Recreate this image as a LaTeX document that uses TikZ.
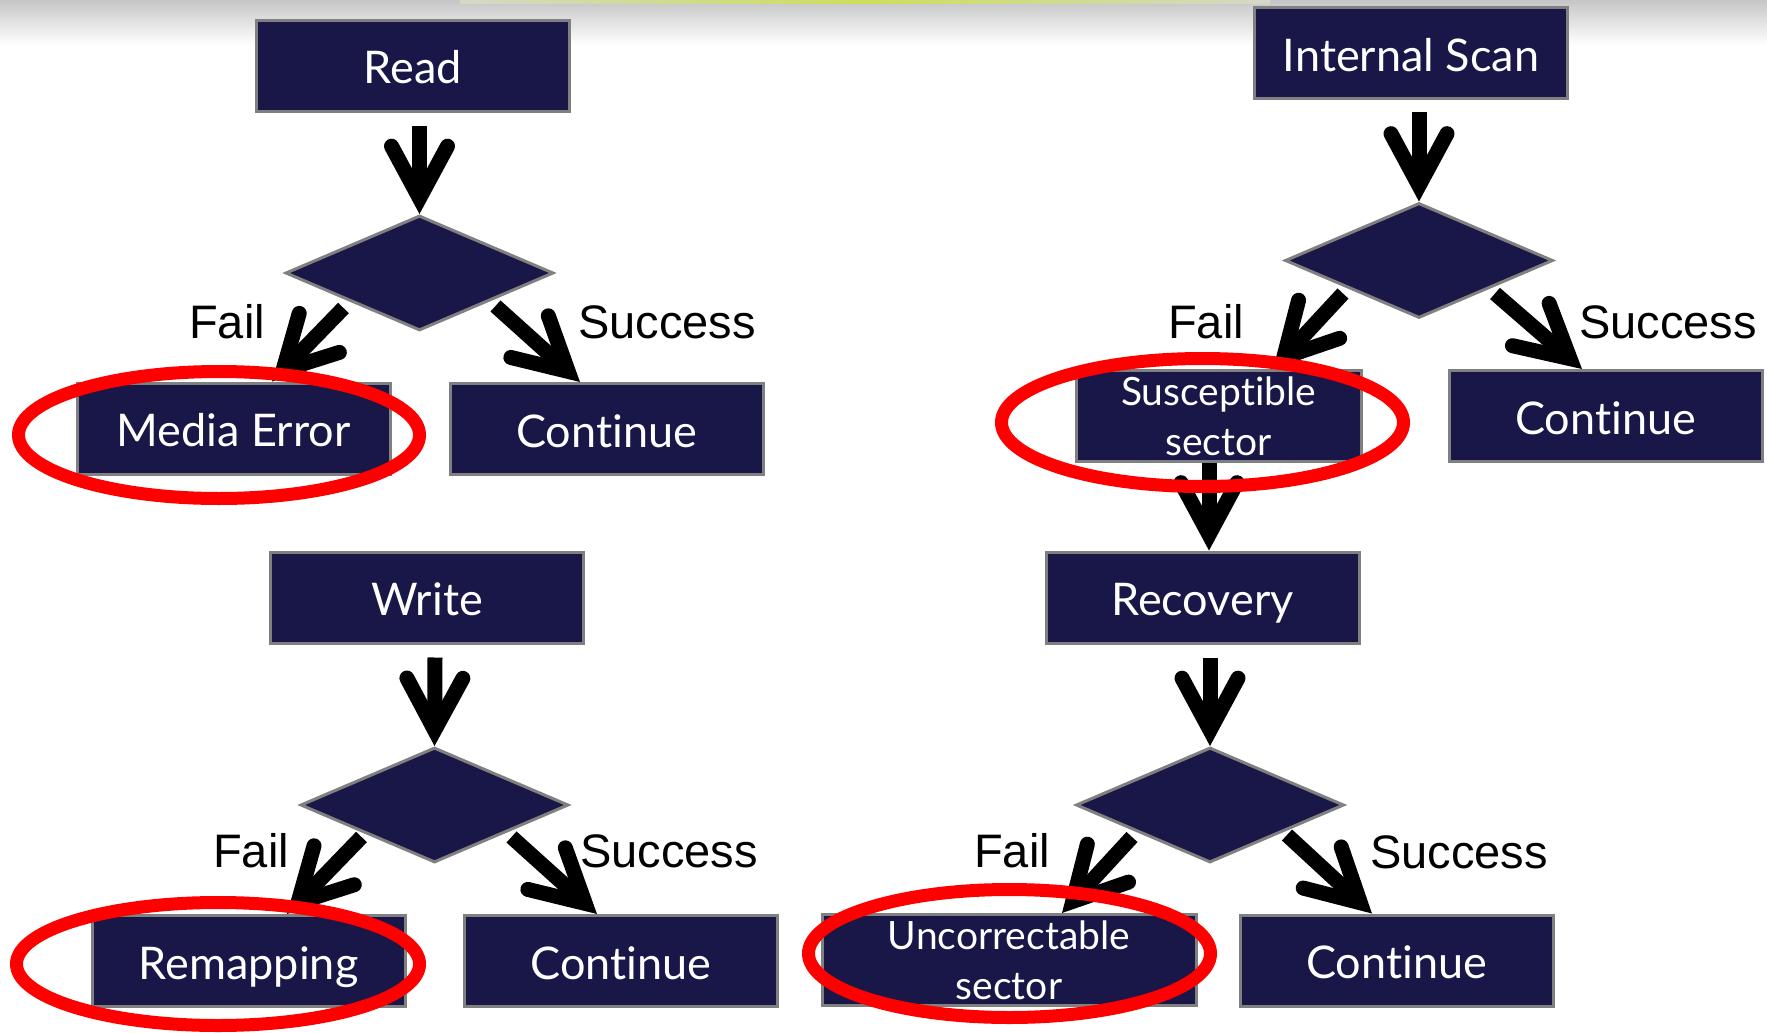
\documentclass[tikz,border=0pt]{standalone}
\usepackage{fontspec}
\setmainfont[Ligatures={NoCommon,NoContextual}]{Lato}
\newfontfamily\arialfont{Liberation Sans}
\usetikzlibrary{shapes.geometric,arrows.meta,calc}
\definecolor{navy}{RGB}{25,22,72}
\definecolor{boxedge}{RGB}{128,128,128}
\definecolor{ringred}{RGB}{255,0,0}
\definecolor{topbar}{RGB}{205,222,90}
\begin{document}
\begin{tikzpicture}[x=1pt,y=-1pt,
  box/.style={rectangle, fill=navy, draw=boxedge, line width=3pt, inner sep=0pt,
    text=white, font=\fontsize{45}{54}\selectfont, text height=36pt, text depth=0pt,
    minimum width=313pt, minimum height=91pt},
  boxtwo/.style={rectangle, fill=navy, draw=boxedge, line width=3pt, inner sep=0pt,
    text=white, font=\fontsize{39}{50}\selectfont, align=center, minimum height=91pt},
  dec/.style={diamond, fill=navy, draw=boxedge, line width=3pt, inner sep=0pt,
    minimum width=268pt, minimum height=115pt},
  arr/.style={line width=15pt,
    -{Straight Barb[length=52pt, width=56pt, line cap=round, line join=miter]}},
  lbl/.style={font=\arialfont\fontsize{47}{56}\selectfont, anchor=base west, inner sep=0pt},
  ring/.style={draw=ringred, line width=13pt}]

% canvas and top shadow
\fill[white] (0,0) rectangle (1767,1033);
\useasboundingbox (0,0) rectangle (1767,1033);
\shade[top color=gray!45, bottom color=white] (0,0) rectangle (1767,45);
\shade[left color=topbar!30!gray!40, right color=topbar!30!gray!40, middle color=topbar]
  (460,0) rectangle (1270,4);

% boxes
\node[box] (read) at (412.5,66) {Read};
\node[box] (scan) at (1411,53) {Internal Scan};
\node[box] (mederr) at (233.5,428.5) {Media Error};
\node[box] (contA) at (606.5,429) {Continue};
\node[boxtwo, minimum width=285pt] (susc) at (1218.5,416) {Susceptible\\sector};
\node[box] (contB) at (1605.5,416) {Continue};
\node[box] (write) at (427,597.5) {Write};
\node[box] (recov) at (1202.5,597.5) {Recovery};
\node[box] (remap) at (248.5,961) {Remapping};
\node[box] (contC) at (621,961) {Continue};
\node[boxtwo, minimum width=374pt] (uncor) at (1009,960) {Uncorrectable\\sector};
\node[box] (contD) at (1396.5,960.5) {Continue};

% decisions
\node[dec] (d1) at (419.5,273) {};
\node[dec] (d2) at (434.5,805) {};
\node[dec] (d3) at (1419,260.5) {};
\node[dec] (d4) at (1210,805) {};

% connectors
\draw[arr] ($(read.south)+(7,13)$) -- (d1.north);
\draw[arr] ($(scan.south)+(8,12)$) -- (d3.north);
\draw[arr] ($(write.south)+(8,13)$) -- (d2.north);
\draw[arr] ($(recov.south)+(7.5,13)$) -- (d4.north);
\draw[arr] ($(susc.south)+(-9.5,0)$) -- ($(recov.north)+(6.5,0)$);

\draw[arr] ($(d1.center)+(-76,35)$) -- ($(mederr.north)+(38.5,0)$);
\draw[arr] ($(d1.center)+(76,33)$) -- ($(contA.north)+(-26.5,0)$);
\draw[arr] ($(d3.center)+(-76,33)$) -- ($(susc.north)+(54.5,0)$);
\draw[arr] ($(d3.center)+(76,33)$) -- ($(contB.north)+(-23.5,0)$);
\draw[arr] ($(d2.center)+(-73,32)$) -- ($(remap.north)+(38.5,0)$);
\draw[arr] ($(d2.center)+(77,32)$) -- ($(contC.north)+(-24,0)$);
\draw[arr] ($(d4.center)+(-78,32)$) -- ($(uncor.north)+(53,0)$);
\draw[arr] ($(d4.center)+(77,30)$) -- ($(contD.north)+(-24.5,0)$);

% labels
\node[lbl] (fA) at (189,338) {Fail};
\node[lbl] (sA) at (578,338) {Success};
\node[lbl] (fB) at (1168,338) {Fail};
\node[lbl] (sB) at (1579,338) {Success};
\node[lbl] (fC) at (213,867) {Fail};
\node[lbl] (sC) at (580,867) {Success};
\node[lbl] (fD) at (974,867) {Fail};
\node[lbl] (sD) at (1370,868) {Success};

% red highlight rings
\draw[ring] (219,435) ellipse [x radius=200.5, y radius=63.5];
\draw[ring] (1202.5,422.5) ellipse [x radius=201, y radius=64];
\draw[ring] (218,964) ellipse [x radius=201.5, y radius=61.5];
\draw[ring] (1009.5,953.5) ellipse [x radius=201, y radius=64];
\end{tikzpicture}
\end{document}
